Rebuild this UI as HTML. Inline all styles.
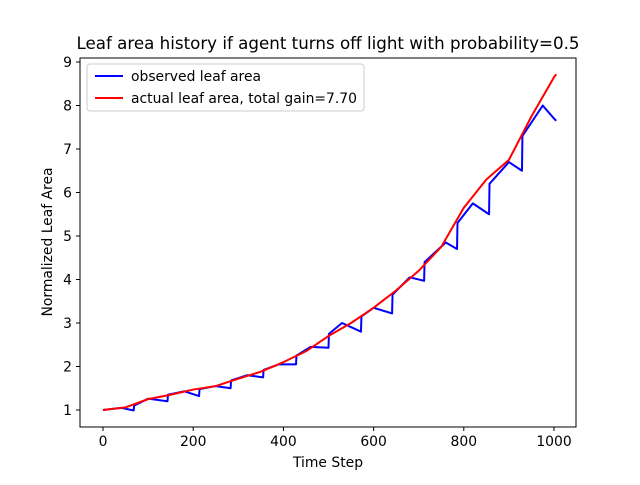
<!DOCTYPE html>
<html><head><meta charset="utf-8"><style>
body{margin:0;background:#fff;font-family:"Liberation Sans","DejaVu Sans",sans-serif}
svg text{font-family:"DejaVu Sans","Liberation Sans",sans-serif}
</style></head><body>
<svg id="chart" width="640" height="480">
<rect width="640" height="480" fill="#fff"/>
<text x="328" y="49" font-size="16.7" text-anchor="middle">Leaf area history if agent turns off light with probability=0.5</text>
<g id="plot"></g>
<rect x="80" y="58" width="496" height="369" fill="none" stroke="#000" stroke-width="1"/>
<text x="328" y="467" font-size="13.9" text-anchor="middle">Time Step</text>
<text transform="translate(52,242) rotate(-90)" font-size="13.9" text-anchor="middle">Normalized Leaf Area</text>
<g>
<rect x="87" y="64" width="277" height="47" rx="3" fill="#fff" fill-opacity="0.8" stroke="#ccc"/>
<line x1="95" y1="76" x2="123" y2="76" stroke="#0000ff" stroke-width="2"/>
<text x="131" y="81" font-size="13.9">observed leaf area</text>
<line x1="95" y1="98" x2="123" y2="98" stroke="#ff0000" stroke-width="2"/>
<text x="131" y="103" font-size="13.9">actual leaf area, total gain=7.70</text>
</g>
</svg>
<script>
const xTicks=[0,200,400,600,800,1000];
const yTicks=[1,2,3,4,5,6,7,8,9];
const redT=[0,50,100,150,200,250,300,350,400,450,500,550,600,650,700,750,800,850,900,950,1000,1005];
const redY=[1.0,1.06,1.25,1.35,1.47,1.55,1.72,1.88,2.1,2.35,2.7,3.0,3.35,3.75,4.2,4.75,5.65,6.3,6.75,7.75,8.65,8.72];
const blueT=[0,40,68,69,100,143,144,180,213,214,250,283,284,320,355,356,390,428,429,460,500,501,530,572,573,600,641,642,680,712,713,760,785,786,820,856,857,900,929,930,975,1000,1005];
const blueY=[1.0,1.05,0.99,1.1,1.26,1.2,1.35,1.43,1.32,1.48,1.55,1.5,1.68,1.8,1.75,1.92,2.05,2.05,2.25,2.45,2.43,2.75,3.0,2.8,3.15,3.35,3.22,3.65,4.05,3.97,4.4,4.85,4.7,5.3,5.75,5.5,6.2,6.7,6.5,7.3,8.0,7.7,7.65];
const sx=t=>103+t*0.451;
const sy=v=>410-(v-1)*43.5;
const NS="http://www.w3.org/2000/svg";
const svg=document.getElementById('chart');
const plot=document.getElementById('plot');
function mk(tag,attrs,parent){const e=document.createElementNS(NS,tag);for(const k in attrs)e.setAttribute(k,attrs[k]);parent.appendChild(e);return e;}
xTicks.forEach(t=>{
  const l=mk('line',{x1:sx(t),x2:sx(t),y1:427,y2:431,stroke:'#000'},svg);
  
  
  const tx=mk('text',{x:sx(t),y:446,'font-size':'13.9','text-anchor':'middle'},svg);
  tx.textContent=t;
  
  
});
yTicks.forEach(v=>{
  const l=mk('line',{x1:76,x2:80,y1:sy(v),y2:sy(v),stroke:'#000'},svg);
  
  
  const tx=mk('text',{x:72,y:sy(v)+5,'font-size':'13.9','text-anchor':'end'},svg);
  tx.textContent=v;
  
  
});
const bp=mk('polyline',{points:blueT.map((t,i)=>sx(t)+','+sy(blueY[i])).join(' '),fill:'none',stroke:'#0000ff','stroke-width':2,'stroke-linejoin':'round'},plot);


const rp=mk('polyline',{points:redT.map((t,i)=>sx(t)+','+sy(redY[i])).join(' '),fill:'none',stroke:'#ff0000','stroke-width':2,'stroke-linejoin':'round'},plot);


</script>
</body></html>
